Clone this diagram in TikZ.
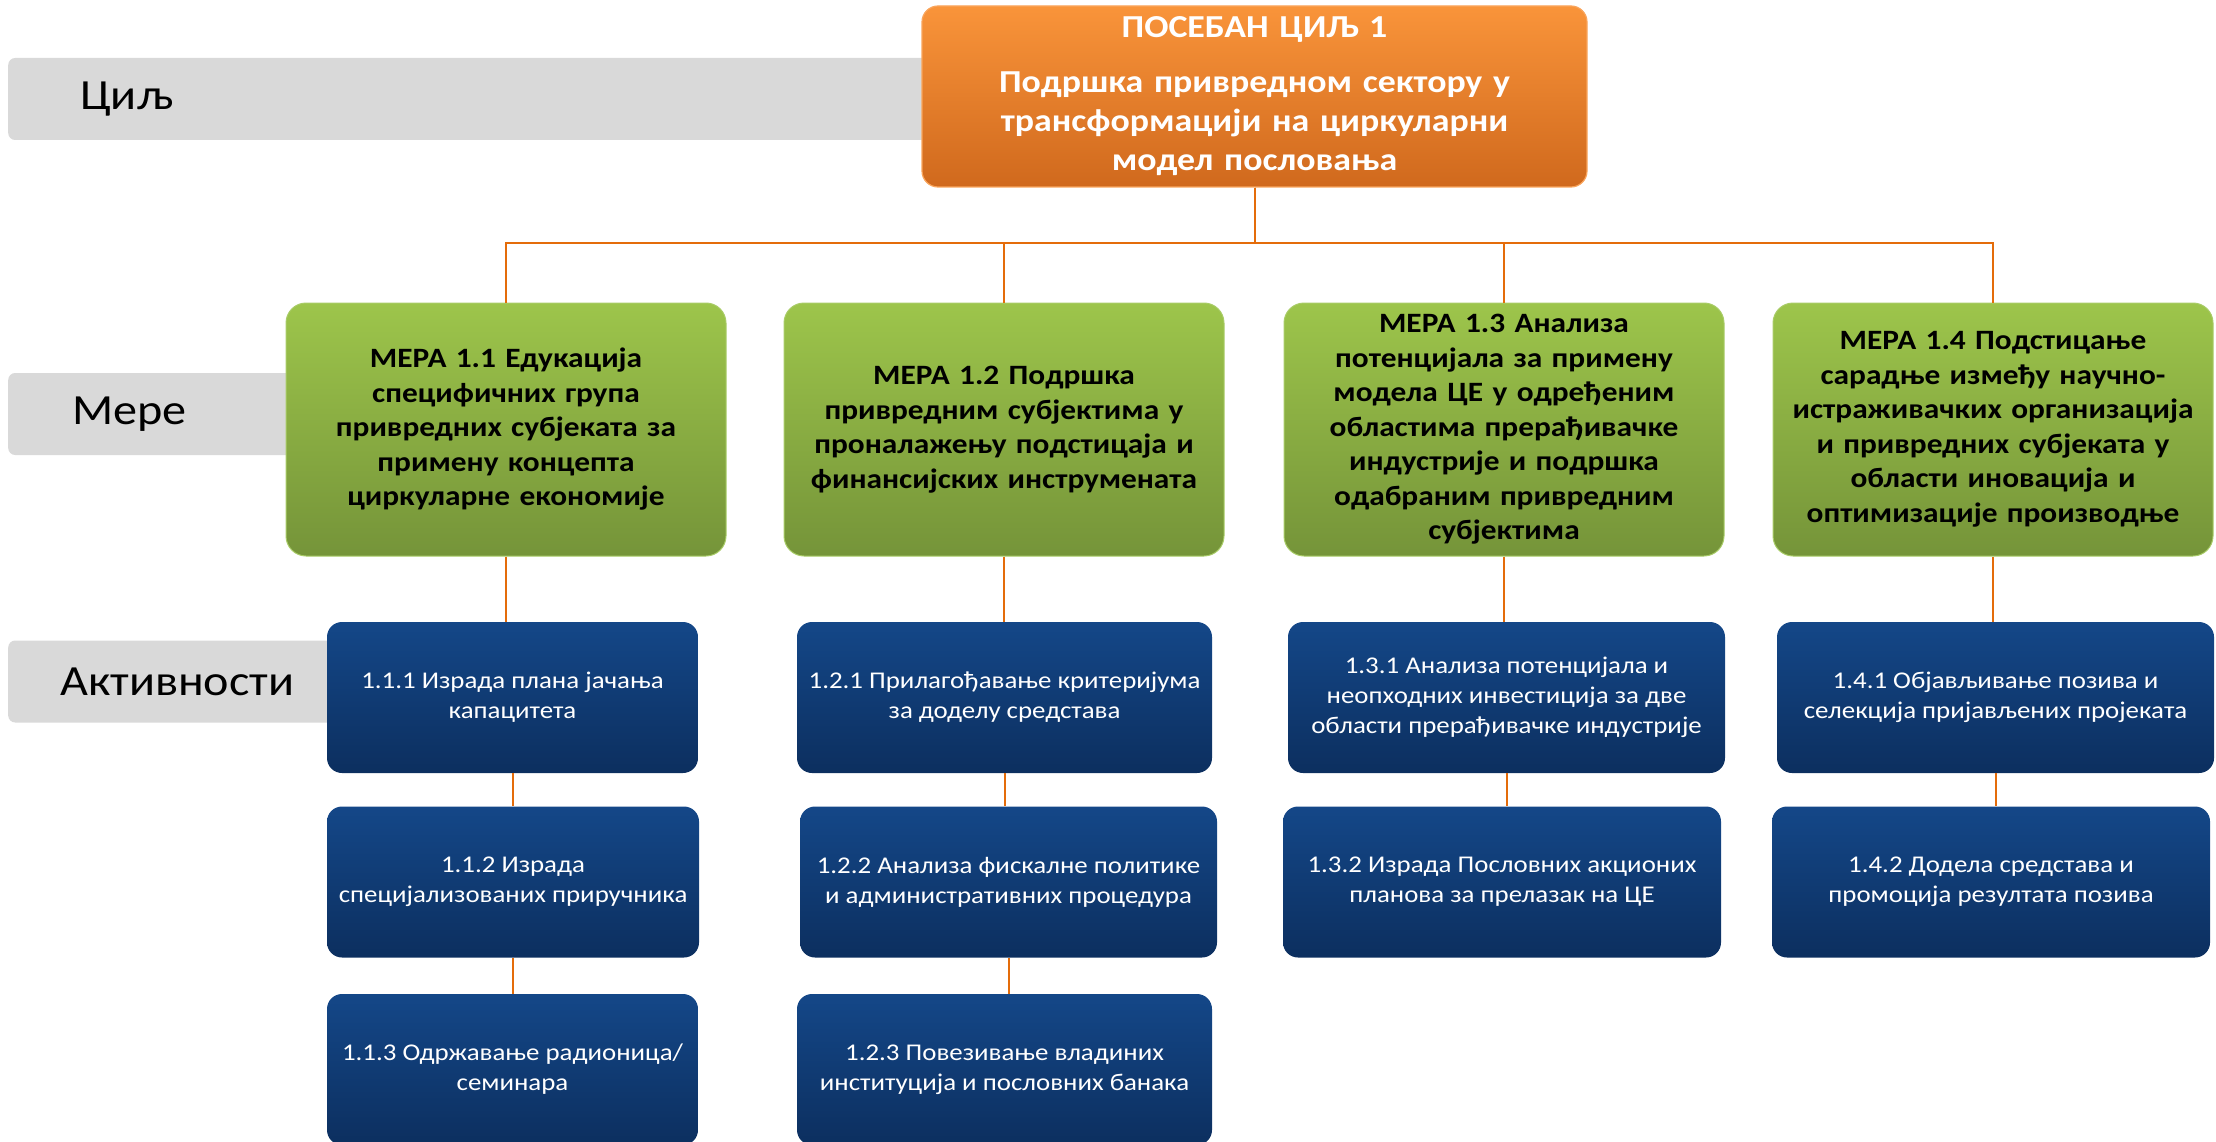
\documentclass[tikz,border=0pt]{standalone}
\usepackage{fontspec}
\setmainfont{Carlito}[FakeStretch=1.12]
\usepackage{tikz}
\usetikzlibrary{positioning}

\definecolor{lblgray}{HTML}{D9D9D9}
\definecolor{linkorange}{HTML}{E46C0A}
\definecolor{goaltop}{HTML}{F9943A}
\definecolor{goalbot}{HTML}{D0691D}
\definecolor{goalrim}{HTML}{F9A55C}
\definecolor{meastop}{HTML}{9DC54B}
\definecolor{measbot}{HTML}{759439}
\definecolor{meadrim}{HTML}{A9CC68}
\definecolor{acttop}{HTML}{144788}
\definecolor{actbot}{HTML}{0C2F5F}

\begin{document}
\begin{tikzpicture}[x=1pt, y=-1pt,
  lblbox/.style={fill=lblgray, rounded corners=7pt, anchor=west, inner xsep=0pt,
    minimum height=82pt, align=left, font=\fontsize{43}{48}\selectfont},
  goalbox/.style={top color=goaltop, bottom color=goalbot, draw=goalrim, line width=1.2pt,
    rounded corners=16pt, minimum width=665pt, minimum height=181pt, text width=630pt,
    align=center, text=white, font=\bfseries\fontsize{32}{39}\selectfont},
  measbox/.style={top color=meastop, bottom color=measbot, draw=meadrim, line width=1pt,
    rounded corners=20pt, minimum width=440pt, minimum height=253pt, text width=425pt,
    align=center, font=\bfseries\fontsize{28}{34.5}\selectfont},
  actbox/.style={top color=acttop, bottom color=actbot, rounded corners=15pt,
    minimum height=151pt, align=center, text=white, font=\fontsize{24}{30}\selectfont},
  link/.style={draw=linkorange, line width=2pt}]

  \clip (0,0) rectangle (2216,1142);

  % Level labels
  \node[lblbox, text width=922pt] (lgoal) at (8,99) {\hspace*{72pt}Циљ};
  \node[lblbox, text width=300pt] (lmeas) at (8,414) {\hspace*{64pt}Мере};
  \node[lblbox, text width=330pt] (lact) at (8,681.5) {\hspace*{52pt}Активности};

  % Goal
  \node[goalbox] (goal) at (1254.5,96.5) {ПОСЕБАН ЦИЉ 1\\[16pt]
    Подршка привредном сектору у\\ трансформацији на циркуларни\\ модел пословања};

  % Measures
  \node[measbox] (m1) at (506,429.5) {МЕРА 1.1 Едукација\\ специфичних група\\
    привредних субјеката за\\ примену концепта\\ циркуларне економије};
  \node[measbox] (m2) at (1004,429.5) {МЕРА 1.2 Подршка\\ привредним субјектима у\\
    проналажењу подстицаја и\\ финансијских инструмената};
  \node[measbox] (m3) at (1504,429.5) {МЕРА 1.3 Анализа\\ потенцијала за примену\\
    модела ЦЕ у одређеним\\ областима прерађивачке\\ индустрије и подршка\\
    одабраним привредним\\ субјектима};
  \node[measbox] (m4) at (1993,429.5) {МЕРА 1.4 Подстицање\\ сарадње између научно-\\
    истраживачких организација\\ и привредних субјеката у\\ области иновација и\\
    оптимизације производње};

  % Activities
  \node[actbox, minimum width=371pt] (a11) at (512.5,697.5) {1.1.1 Израда плана јачања\\ капацитета};
  \node[actbox, minimum width=372pt] (a12) at (513,882) {1.1.2 Израда\\ специјализованих приручника};
  \node[actbox, minimum width=371pt] (a13) at (512.5,1069.5) {1.1.3 Одржавање радионица/\\ семинара};
  \node[actbox, minimum width=415pt] (a21) at (1004.5,697.5) {1.2.1 Прилагођавање критеријума\\ за доделу средстава};
  \node[actbox, minimum width=417pt] (a22) at (1008.5,882) {1.2.2 Анализа фискалне политике\\ и административних процедура};
  \node[actbox, minimum width=415pt] (a23) at (1004.5,1069.5) {1.2.3 Повезивање владиних\\ институција и пословних банака};
  \node[actbox, minimum width=437pt] (a31) at (1506.5,697.5) {1.3.1 Анализа потенцијала и\\
    неопходних инвестиција за две\\ области прерађивачке индустрије};
  \node[actbox, minimum width=438pt] (a32) at (1502,882) {1.3.2 Израда Пословних акционих\\ планова за прелазак на ЦЕ};
  \node[actbox, minimum width=437pt] (a41) at (1995.5,697.5) {1.4.1 Објављивање позива и\\ селекција пријављених пројеката};
  \node[actbox, minimum width=438pt] (a42) at (1991,882) {1.4.2 Додела средстава и\\ промоција резултата позива};

  % Connectors
  \foreach \m in {m1,m2,m3,m4}
    \draw[link] (goal.south) -- ++(0,55) -| (\m.north);
  \foreach \up/\down in {m1/a11,a11/a12,a12/a13,m2/a21,a21/a22,a22/a23,m3/a31,a31/a32,m4/a41,a41/a42}
    \draw[link] (\up.south) -- (\up.south |- \down.north);
\end{tikzpicture}
\end{document}
